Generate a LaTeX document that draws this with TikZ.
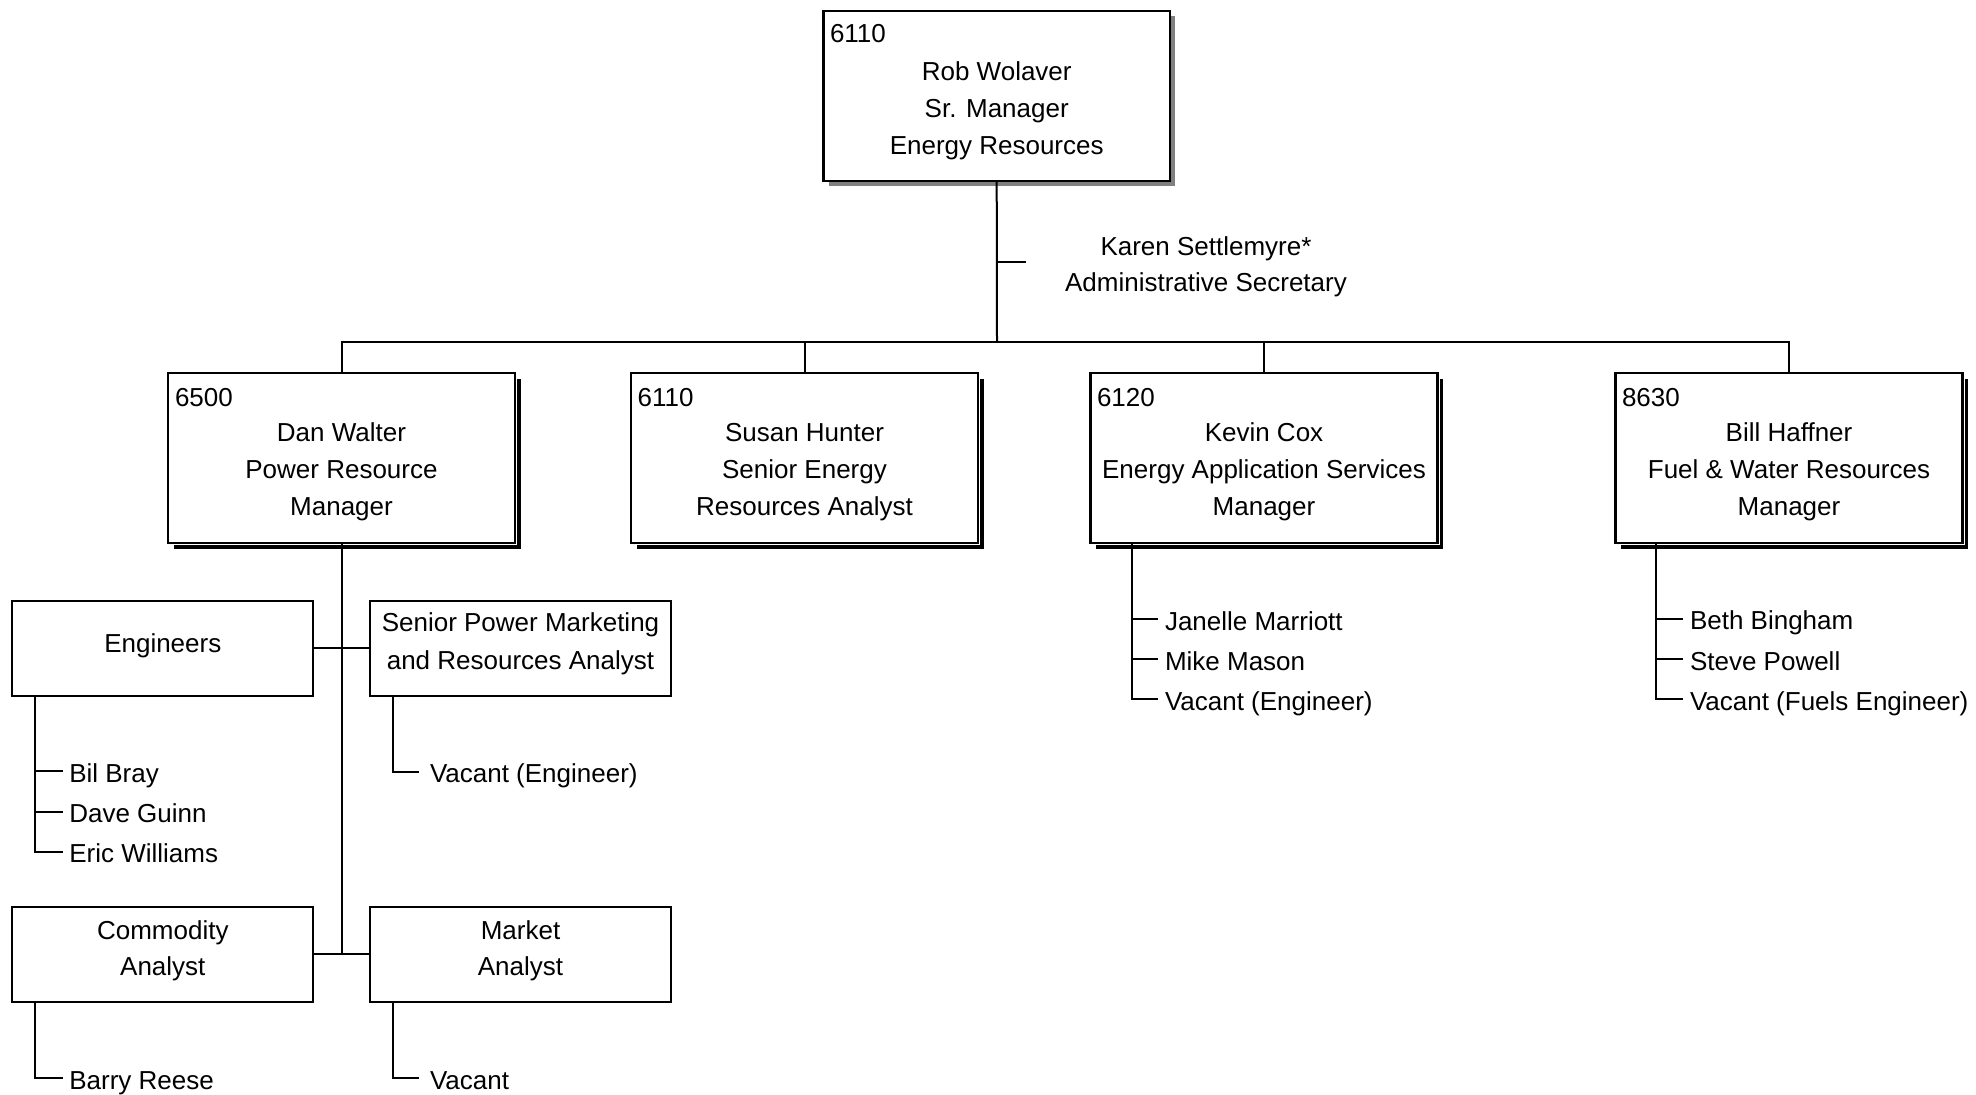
\documentclass[tikz,border=0pt]{standalone}
\usepackage{fontspec}
\setmainfont{Liberation Sans}
\usetikzlibrary{shadows}
\newcommand\chartfont{\fontsize{13}{15.6}\selectfont}
\begin{document}
\begin{tikzpicture}[x=0.5pt,y=-0.5pt,
  every node/.style={inner sep=0pt, outer sep=0pt, font=\chartfont},
  lbl/.style={anchor=base},
  lblw/.style={anchor=base west},
  topbox/.style={shape=rectangle, draw=black, line width=1.2pt, fill=white,
    minimum width=173.35pt, minimum height=85pt,
    general shadow={fill=black!50, shadow xshift=2.6pt, shadow yshift=-2.6pt}},
  mgrbox/.style={shape=rectangle, draw=black, line width=1.2pt, fill=white,
    minimum width=173.5pt, minimum height=85.15pt,
    general shadow={fill=black, shadow xshift=2.9pt, shadow yshift=-2.9pt},
    preaction={draw=white, line width=2.2pt}},
  subbox/.style={shape=rectangle, draw=black, line width=1.1pt, fill=white,
    minimum width=150.5pt, minimum height=47.5pt},
  conn/.style={draw=black, line width=1pt}
]
\useasboundingbox (0,0) rectangle (1976,1094);

% ---------- top box ----------
\node[topbox] (top) at (996.7,96) {};
\node[lblw] (topnum) at (830,42.7) {6110};
\node[lbl] (topl1) at (996.7,80.7) {Rob Wolaver};
\node[lbl] (topl2) at (996.7,117.3) {Sr. Manager};
\node[lbl] (topl3) at (996.7,154.3) {Energy Resources};

% secretary
\coordinate (sec) at (997,261.7);
\coordinate (secend) at (1026,261.7);
\node[lbl] (sec1) at (1206,255) {Karen Settlemyre*};
\node[lbl] (sec2) at (1206,291) {Administrative Secretary};

% ---------- managers ----------
\node[mgrbox] (dan) at (341.5,457.85) {};
\node[mgrbox] (susan) at (804.5,457.85) {};
\node[mgrbox] (kevin) at (1264,457.85) {};
\node[mgrbox] (bill) at (1789,457.85) {};

\node[lblw] (dannum) at (175,406) {6500};
\node[lbl] (dan1) at (341.5,441.7) {Dan Walter};
\node[lbl] (dan2) at (341.5,478.3) {Power Resource};
\node[lbl] (dan3) at (341.5,515) {Manager};

\node[lblw] (susnum) at (637.7,406) {6110};
\node[lbl] (sus1) at (804.5,441.7) {Susan Hunter};
\node[lbl] (sus2) at (804.5,478.3) {Senior Energy};
\node[lbl] (sus3) at (804.5,515) {Resources Analyst};

\node[lblw] (kevnum) at (1097,406) {6120};
\node[lbl] (kev1) at (1264,441.7) {Kevin Cox};
\node[lbl] (kev2) at (1264,478.3) {Energy Application Services};
\node[lbl] (kev3) at (1264,515) {Manager};

\node[lblw] (bilnum) at (1622,406) {8630};
\node[lbl] (bil1) at (1789,441.7) {Bill Haffner};
\node[lbl] (bil2) at (1789,478.3) {Fuel \& Water Resources};
\node[lbl] (bil3) at (1789,515) {Manager};

% top-level connectors
\coordinate (bar) at (997,342.3);
\draw[conn] (top.south) -- (bar);
\draw[conn] (sec) -- (secend);
\draw[conn] (dan.north) |- (bar);
\draw[conn] (bill.north) |- (bar);
\draw[conn] (susan.north) -- (susan.north |- bar);
\draw[conn] (kevin.north) -- (kevin.north |- bar);

% ---------- Dan's units ----------
\node[subbox] (eng) at (162.8,648.2) {};
\node[lbl] (engt) at (162.8,652.3) {Engineers};
\node[subbox] (spm) at (520.5,648.2) {};
\node[lbl] (spm1) at (520.5,631.7) {Senior Power Marketing};
\node[lbl] (spm2) at (520.5,669.3) {and Resources Analyst};
\node[subbox] (comm) at (162.8,954.2) {};
\node[lbl] (comm1) at (162.8,939.3) {Commodity};
\node[lbl] (comm2) at (162.8,975) {Analyst};
\node[subbox] (mkt) at (520.5,954.2) {};
\node[lbl] (mkt1) at (520.5,939.3) {Market};
\node[lbl] (mkt2) at (520.5,975) {Analyst};

\coordinate (dj) at (341.5,954.2);
\draw[conn] (dan.south) -- (dj);
\draw[conn] (eng.east) -- (spm.west);
\draw[conn] (comm.east) -- (mkt.west);

% Engineers list
\coordinate (e1) at (35,771);
\coordinate (e2) at (35,811.5);
\coordinate (e3) at (35,851.7);
\coordinate (e1t) at (62.7,771);
\coordinate (e2t) at (62.7,811.5);
\coordinate (e3t) at (62.7,851.7);
\draw[conn] (eng.south -| e3) -- (e3) -- (e3t);
\draw[conn] (e1) -- (e1t);
\draw[conn] (e2) -- (e2t);
\node[lblw] (n1) at (69.3,782.7) {Bil Bray};
\node[lblw] (n2) at (69.3,822.7) {Dave Guinn};
\node[lblw] (n3) at (69.3,862.7) {Eric Williams};

% Senior power list
\coordinate (s1) at (393.3,771.7);
\coordinate (s1t) at (419.3,771.7);
\draw[conn] (spm.south -| s1) -- (s1) -- (s1t);
\node[lblw] (n4) at (430,782.7) {Vacant (Engineer)};

% Commodity list
\coordinate (c1) at (35,1078.3);
\coordinate (c1t) at (62.7,1078.3);
\draw[conn] (comm.south -| c1) -- (c1) -- (c1t);
\node[lblw] (n5) at (69.3,1089.3) {Barry Reese};

% Market list
\coordinate (m1) at (393.3,1078.3);
\coordinate (m1t) at (419.3,1078.3);
\draw[conn] (mkt.south -| m1) -- (m1) -- (m1t);
\node[lblw] (n6) at (430,1089.3) {Vacant};

% Kevin list
\coordinate (k1) at (1131.7,619);
\coordinate (k2) at (1131.7,659);
\coordinate (k3) at (1131.7,699);
\coordinate (k1t) at (1158.3,619);
\coordinate (k2t) at (1158.3,659);
\coordinate (k3t) at (1158.3,699);
\draw[conn] (kevin.south -| k3) -- (k3) -- (k3t);
\draw[conn] (k1) -- (k1t);
\draw[conn] (k2) -- (k2t);
\node[lblw] (n7) at (1165,630) {Janelle Marriott};
\node[lblw] (n8) at (1165,670) {Mike Mason};
\node[lblw] (n9) at (1165,710) {Vacant (Engineer)};

% Bill list
\coordinate (b1) at (1656.3,618.5);
\coordinate (b2) at (1656.3,659);
\coordinate (b3) at (1656.3,699);
\coordinate (b1t) at (1683.3,618.5);
\coordinate (b2t) at (1683.3,659);
\coordinate (b3t) at (1683.3,699);
\draw[conn] (bill.south -| b3) -- (b3) -- (b3t);
\draw[conn] (b1) -- (b1t);
\draw[conn] (b2) -- (b2t);
\node[lblw] (n10) at (1690,629.5) {Beth Bingham};
\node[lblw] (n11) at (1690,670) {Steve Powell};
\node[lblw] (n12) at (1690,710) {Vacant (Fuels Engineer)};

\end{tikzpicture}
\end{document}
